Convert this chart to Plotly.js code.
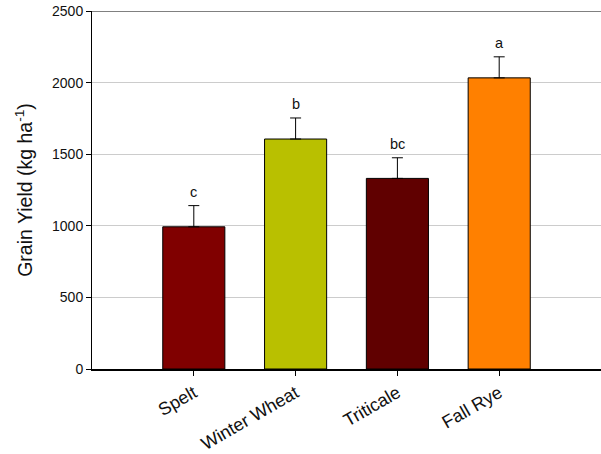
<!DOCTYPE html>
<html>
<head>
<meta charset="utf-8">
<script src="https://cdn.plot.ly/plotly-3.0.1.min.js"></script>
<style>html,body{margin:0;padding:0;background:#fff}#chart{width:601px;height:454px}</style>
</head>
<body>
<div id="chart"></div>
<script>
const categories = ["Spelt", "Winter Wheat", "Triticale", "Fall Rye"];
const yieldValues = [993, 1606, 1331, 2033];
const yieldErrors = [148, 147, 144, 147];
const groupLetters = ["c", "b", "bc", "a"];
const barColors = ["#800000", "#b9c000", "#600000", "#ff8000"];
const yTicks = [0, 500, 1000, 1500, 2000, 2500];

const trace = {
  type: "bar",
  x: categories,
  y: yieldValues,
  width: 0.61,
  marker: {color: barColors, line: {color: "#000", width: 1}},
  error_y: {type: "data", symmetric: false, array: yieldErrors,
            arrayminus: yieldErrors.map(() => 0), color: "#000", thickness: 1, width: 5.5},
  hoverinfo: "skip"
};

const annotations = categories.map((c, i) => ({
  x: c, y: yieldValues[i] + yieldErrors[i], xref: "x", yref: "y",
  text: groupLetters[i], showarrow: false, yanchor: "bottom", yshift: 4,
  font: {family: "Liberation Sans, Arial, sans-serif", size: 14.5, color: "#111"}
}));

const layout = {
  width: 601, height: 454,
  margin: {l: 92, r: 0, t: 11, b: 85},
  paper_bgcolor: "#fff", plot_bgcolor: "#fff",
  showlegend: false,
  font: {family: "Liberation Sans, Arial, sans-serif", color: "#111"},
  xaxis: {
    type: "category", range: [-1, 4],
    showline: true, linecolor: "#000", linewidth: 1.5,
    ticks: "outside", ticklen: 5, tickcolor: "#000", tickwidth: 1,
    tickangle: -30, tickfont: {size: 18, color: "#111"},
    showgrid: false, zeroline: false
  },
  yaxis: {
    range: [0, 2500], tickvals: yTicks, ticktext: yTicks.map(String),
    showline: true, linecolor: "#000", linewidth: 1,
    ticks: "outside", ticklen: 5, tickcolor: "#000",
    tickfont: {size: 14, color: "#111"},
    showgrid: true, gridcolor: "#cccccc", gridwidth: 1, zeroline: false,
    title: {text: "Grain Yield (kg ha<sup>-1</sup>)", font: {size: 19.5, color: "#111"}, standoff: 14}
  },
  shapes: [{type: "line", xref: "paper", yref: "y", x0: 0, x1: 1, y0: 2500, y1: 2500,
            line: {color: "#808080", width: 2}}],
  annotations: annotations
};

Plotly.newPlot("chart", [trace], layout, {displayModeBar: false, staticPlot: true});
</script>
</body>
</html>
